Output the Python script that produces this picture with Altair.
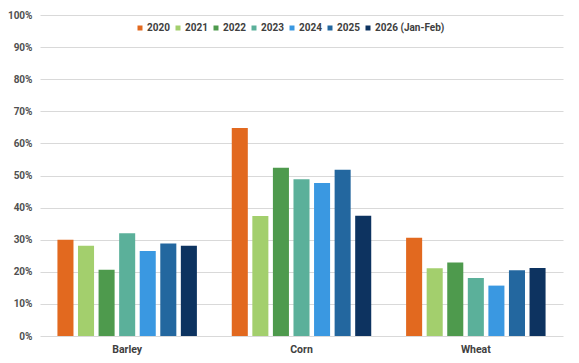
import altair as alt
import pandas as pd

crops = ["Barley", "Corn", "Wheat"]
years = ["2020", "2021", "2022", "2023", "2024", "2025", "2026 (Jan-Feb)"]
barley = [30.0, 28.1, 20.6, 32.0, 26.5, 28.8, 28.1]
corn = [64.8, 37.4, 52.4, 48.8, 47.7, 51.8, 37.5]
wheat = [30.6, 21.1, 22.9, 18.1, 15.7, 20.5, 21.2]
colors = ["#E2691F", "#A3CF6D", "#4E9A4D", "#5BB09A", "#3A98E1", "#23679F", "#0D3360"]

rows = []
for crop, vals in zip(crops, [barley, corn, wheat]):
    for y, v in zip(years, vals):
        rows.append({"crop": crop, "year": y, "value": v / 100})
df = pd.DataFrame(rows)

chart = alt.Chart(df).mark_bar().encode(
    x=alt.X("crop:N", sort=crops, title=None,
            scale=alt.Scale(paddingInner=0.2, paddingOuter=0.1),
            axis=alt.Axis(labelAngle=0, domain=False, ticks=False, labelPadding=8,
                          labelFontSize=10.5, labelFontWeight="bold", labelColor="#404040",
                          labelFont="Roboto")),
    xOffset=alt.XOffset("year:N", sort=years, scale=alt.Scale(paddingInner=0.22)),
    y=alt.Y("value:Q", title=None,
            scale=alt.Scale(domain=[0, 1]),
            axis=alt.Axis(format=".0%", values=[i / 10 for i in range(11)], domain=False,
                          ticks=False, labelPadding=8, labelFontSize=10,
                          labelFontWeight="bold", labelColor="#505050", labelFont="Roboto",
                          gridColor="#D9D9D9", gridWidth=1)),
    color=alt.Color("year:N", sort=years,
                    scale=alt.Scale(domain=years, range=colors),
                    legend=alt.Legend(title=None, orient="none", direction="horizontal",
                                      legendX=95, legendY=8, symbolType="square",
                                      symbolSize=25, symbolStrokeWidth=0,
                                      labelFontSize=10, labelFontWeight="bold",
                                      labelColor="#404040", labelFont="Roboto",
                                      columnPadding=3, symbolOffset=0, labelOffset=2)),
).properties(
    width=523, height=321,
    autosize=alt.AutoSizeParams(type="none"),
    padding={"left": 32, "top": 7, "right": 8, "bottom": 20},
).configure_view(stroke=None)

chart.save("out.html", embed_options={"renderer": "svg", "actions": False})
